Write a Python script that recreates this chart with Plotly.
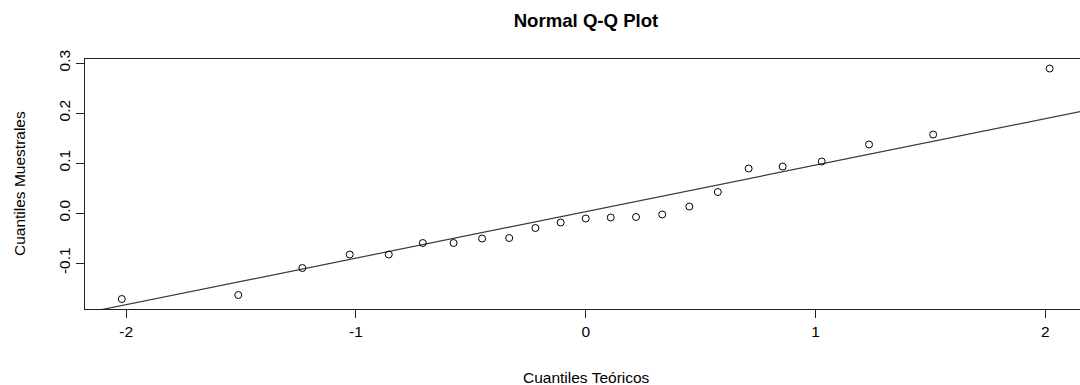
import numpy as np
import plotly.graph_objects as go

# Theoretical quantiles (n = 23)
teoricos = [-2.019, -1.512, -1.233, -1.027, -0.857, -0.709, -0.575, -0.451,
            -0.333, -0.219, -0.109, 0.0, 0.109, 0.219, 0.333, 0.451, 0.575,
            0.709, 0.857, 1.027, 1.233, 1.512, 2.019]
# Sample quantiles
muestrales = [-0.172, -0.164, -0.110, -0.083, -0.083, -0.060, -0.060, -0.051,
              -0.050, -0.030, -0.019, -0.011, -0.009, -0.008, -0.003, 0.013,
              0.042, 0.089, 0.093, 0.103, 0.137, 0.157, 0.289]

x_ticks = [-2, -1, 0, 1, 2]
x_ticktext = ["-2", "-1", "0", "1", "2"]
y_ticks = [-0.1, 0.0, 0.1, 0.2, 0.3]
y_ticktext = ["-0.1", "0.0", "0.1", "0.2", "0.3"]

# qqline through the 1st and 3rd quartiles
yq = np.quantile(muestrales, [0.25, 0.75])
xq = np.array([-0.6744898, 0.6744898])
slope = (yq[1] - yq[0]) / (xq[1] - xq[0])
intercept = yq[0] - slope * xq[0]
line_x = [-3, 3]
line_y = [intercept + slope * v for v in line_x]

FONT = "Liberation Sans, Arial, sans-serif"

fig = go.Figure()
fig.add_trace(go.Scatter(x=line_x, y=line_y, mode="lines",
                         line=dict(color="#3a3a3a", width=1.2),
                         hoverinfo="skip", showlegend=False))
fig.add_trace(go.Scatter(x=teoricos, y=muestrales, mode="markers",
                         marker=dict(symbol="circle-open", size=7,
                                     color="black", line=dict(width=1, color="black")),
                         showlegend=False))

fig.update_layout(
    width=1080, height=385,
    margin=dict(l=85, r=0, t=59, b=76),
    paper_bgcolor="white", plot_bgcolor="white",
    font=dict(family=FONT, size=15.5, color="black"),
    title=dict(text="<b>Normal Q-Q Plot</b>", font=dict(family=FONT, size=18.6, color="black"),
               xref="container", x=586 / 1080, xanchor="center",
               yref="container", y=1 - 20.5 / 385, yanchor="middle"),
    xaxis=dict(range=[-2.179, 2.151], tickvals=x_ticks, ticktext=x_ticktext,
               showgrid=False, zeroline=False, showline=True, mirror=True,
               linecolor="#222", linewidth=1, ticks="outside", ticklen=8,
               tickcolor="#222", tickfont=dict(size=15.5, color="black")),
    yaxis=dict(range=[-0.192, 0.308], tickvals=y_ticks, ticktext=y_ticktext,
               showgrid=False, zeroline=False, showline=True, mirror=False,
               linecolor="#222", linewidth=1, ticks="outside", ticklen=8,
               tickcolor="#222", tickangle=-90, tickfont=dict(size=15.5, color="black")),
    annotations=[
        dict(text="Cuantiles Teóricos", xref="paper", yref="paper",
             x=(586 - 85) / 995, y=-(377 - 309) / 250, xanchor="center", yanchor="middle",
             showarrow=False, font=dict(size=15.5, color="black")),
        dict(text="Cuantiles Muestrales", xref="paper", yref="paper",
             x=-(85 - 19) / 995, y=0.5, xanchor="center", yanchor="middle",
             textangle=-90, showarrow=False, font=dict(size=15.5, color="black")),
    ],
)

fig.write_html("out.html")
